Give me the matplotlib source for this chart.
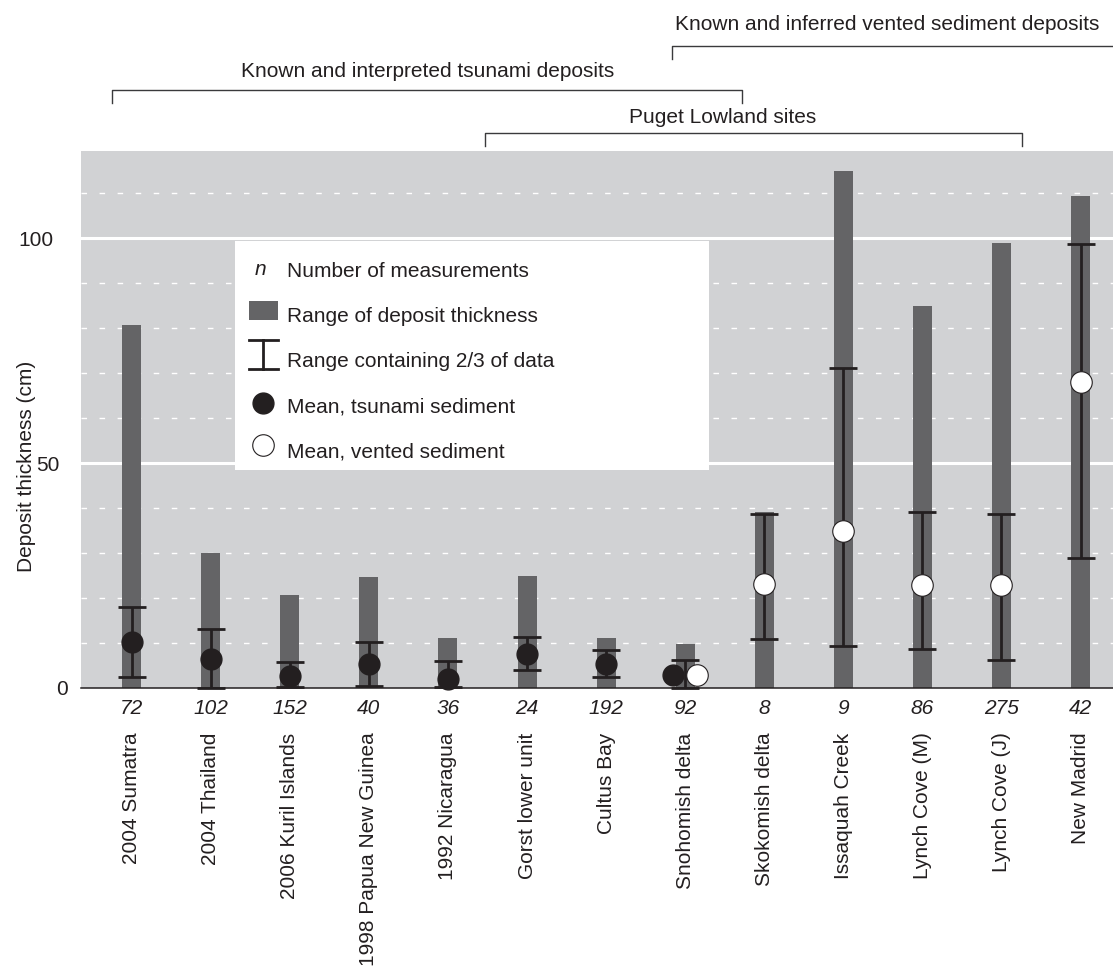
import matplotlib
matplotlib.use("Agg")
import matplotlib.pyplot as plt
from matplotlib.patches import Rectangle
from matplotlib.transforms import blended_transform_factory, ScaledTranslation

plt.rcParams["font.family"] = ["Liberation Sans", "DejaVu Sans"]

# Deposit thickness by site (cm) ----------------------------------------
sites = ["2004 Sumatra", "2004 Thailand", "2006 Kuril Islands",
         "1998 Papua New Guinea", "1992 Nicaragua", "Gorst lower unit",
         "Cultus Bay", "Snohomish delta", "Skokomish delta",
         "Issaquah Creek", "Lynch Cove (M)", "Lynch Cove (J)", "New Madrid"]
n_meas = [72, 102, 152, 40, 36, 24, 192, 92, 8, 9, 86, 275, 42]
range_min = [0, 0, 0, 0, 0, 0, 0, 0, 0, 0, 0, 0, 0]
range_max = [80.7, 30.1, 20.7, 24.7, 11.0, 24.9, 11.0, 9.8, 39.2,
             115.0, 84.9, 99.0, 109.4]
two_thirds_lo = [2.4, 0.0, 0.3, 0.5, 0.3, 4.1, 2.5, 0.0, 10.9,
                 9.3, 8.6, 6.2, 29.0]
two_thirds_hi = [17.9, 13.0, 5.7, 10.2, 6.0, 11.3, 8.5, 6.2, 38.6,
                 71.1, 39.1, 38.7, 98.8]
tsunami_mean = [10.3, 6.4, 2.7, 5.4, 2.0, 7.5, 5.3, 2.9,
                None, None, None, None, None]
vented_mean = [None, None, None, None, None, None, None, 2.9,
               23.1, 34.8, 22.8, 22.8, 68.0]

y_ticks = [0, 50, 100]

# Group brackets above the plot:
# (label, x start, x end, label x, bracket level, label level)
groups = [
    ("Known and inferred vented sediment deposits",
     6.83, 13.5, 9.55, 1.1955, 1.2346),
    ("Known and interpreted tsunami deposits",
     -0.25, 7.72, 3.74, 1.1136, 1.1471),
    ("Puget Lowland sites", 4.47, 11.26, 7.47, 1.0335, 1.0615),
]

BG = "#d1d2d4"
BAR = "#646466"
INK = "#231f20"
FS = 15

fig = plt.figure(figsize=(11.13, 9.68), dpi=100)
ax = fig.add_axes([0.0728, 0.2893, 0.9272, 0.5548])
ax.set_facecolor(BG)

x = list(range(len(sites)))

# grid: solid at 50/100, dashed elsewhere
for yv in range(10, 120, 10):
    if yv % 50 == 0:
        ax.axhline(yv, color="white", lw=2.2, zorder=1)
    else:
        ax.axhline(yv, color="white", lw=1.0, ls=(0, (4, 9)), zorder=1)

heights = [hi - lo for lo, hi in zip(range_min, range_max)]
ax.bar(x, heights, bottom=range_min, width=0.24, color=BAR, zorder=2)

err_mid = [(lo + hi) / 2 for lo, hi in zip(two_thirds_lo, two_thirds_hi)]
err_half = [(hi - lo) / 2 for lo, hi in zip(two_thirds_lo, two_thirds_hi)]
ax.errorbar(x, err_mid, yerr=err_half, fmt="none", ecolor=INK,
            elinewidth=2.0, capsize=10, capthick=2.0, zorder=3,
            clip_on=False)

for i in x:
    both = tsunami_mean[i] is not None and vented_mean[i] is not None
    dx = 0.15 if both else 0.0
    if tsunami_mean[i] is not None:
        ax.plot(i - dx, tsunami_mean[i], "o", ms=15, color=INK,
                mec=INK, zorder=4, clip_on=False)
    if vented_mean[i] is not None:
        ax.plot(i + dx, vented_mean[i], "o", ms=15.5, mfc="white",
                mec=INK, mew=0.8, zorder=4, clip_on=False)

ax.set_xlim(-0.64, 12.41)
ax.set_ylim(0, 119.4)
ax.set_yticks(y_ticks)
ax.set_xticks(x)
ax.set_xticklabels(sites, rotation=90, fontsize=FS, color=INK)
ax.tick_params(axis="x", length=0, pad=32)
ax.tick_params(axis="y", length=0, pad=19.5, labelsize=FS, labelcolor=INK)
# the y labels sit slightly staggered, shorter numbers nearer the axis
for lab, shift in zip(ax.get_yticklabels(), [14, 6, 0]):
    lab.set_transform(lab.get_transform()
                      + ScaledTranslation(shift / 100, 0, fig.dpi_scale_trans))
for side in ("left", "right", "top"):
    ax.spines[side].set_visible(False)
ax.spines["bottom"].set_color(INK)
ax.spines["bottom"].set_linewidth(1.1)

ax.set_ylabel("Deposit thickness (cm)", fontsize=FS, color=INK)
ax.yaxis.set_label_coords(-0.044, 0.413)

# sample counts under each column
for i, n in zip(x, n_meas):
    ax.annotate(str(n), xy=(i, 0), xycoords=("data", "axes fraction"),
                xytext=(0, -14.5), textcoords="offset points",
                ha="center", va="center", fontsize=FS, style="italic",
                color=INK)

# group brackets
trans = blended_transform_factory(ax.transData, ax.transAxes)
tick = 0.024
for label, x0, x1, lx, lev, tlev in groups:
    ax.plot([x0, x0, x1, x1], [lev - tick, lev, lev, lev - tick],
            color="#3a3a3c", lw=1.0, transform=trans, clip_on=False)
    ax.text(lx, tlev, label, transform=trans, ha="center",
            va="center", fontsize=FS, color=INK)

# key box
ta = ax.transAxes
ax.add_patch(Rectangle((0.149, 0.406), 0.4595, 0.426, transform=ta,
                       facecolor="white", edgecolor="none", zorder=1.5))
hx = 0.1764
tx = 0.1996
rows = [0.7747, 0.6909, 0.6071, 0.5233, 0.4395]
labels = ["Number of measurements", "Range of deposit thickness",
          "Range containing 2/3 of data", "Mean, tsunami sediment",
          "Mean, vented sediment"]
for yr, lab in zip(rows, labels):
    ax.text(tx, yr, lab, transform=ta, ha="left", va="center",
            fontsize=FS, color=INK, zorder=5)
ax.text(hx - 0.003, rows[0] + 0.004, "n", transform=ta, ha="center",
        va="center", fontsize=FS, style="italic", color=INK, zorder=5)
ax.add_patch(Rectangle((hx - 0.014, rows[1] - 0.006), 0.028, 0.035,
                       transform=ta, facecolor=BAR, edgecolor="none",
                       zorder=5))
ib_lo, ib_hi = rows[2] - 0.013, rows[2] + 0.04
ax.plot([hx, hx], [ib_lo, ib_hi], color=INK, lw=2.0, transform=ta, zorder=5)
for yc in (ib_lo, ib_hi):
    ax.plot([hx - 0.014, hx + 0.014], [yc, yc], color=INK, lw=2.0,
            transform=ta, zorder=5)
ax.plot(hx, rows[3] + 0.007, "o", ms=15, color=INK, transform=ta, zorder=5)
ax.plot(hx, rows[4] + 0.012, "o", ms=15.5, mfc="white", mec=INK, mew=0.8,
        transform=ta, zorder=5)

fig.savefig("out.png", dpi=100)
